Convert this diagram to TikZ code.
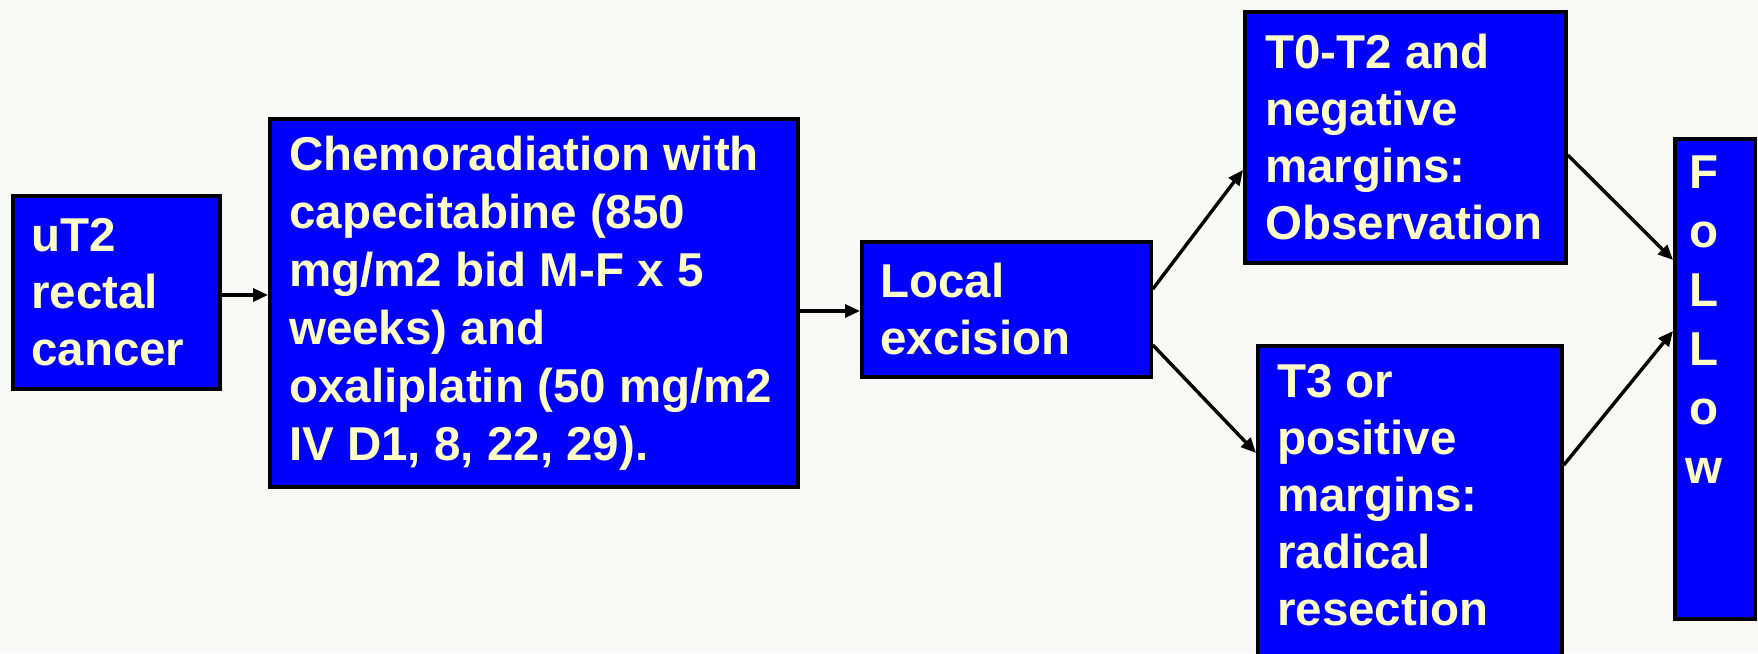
\documentclass[tikz,border=0pt]{standalone}
\usepackage{fontspec}
\setmainfont{Liberation Sans}
\usetikzlibrary{arrows.meta,calc}
\definecolor{bgcol}{RGB}{248,248,247}
\definecolor{boxblue}{RGB}{0,0,255}
\definecolor{txtyellow}{RGB}{255,255,200}
\begin{document}
\begin{tikzpicture}[x=1pt,y=-1pt,
  box/.style={draw=black, line width=3.8pt, fill=boxblue, anchor=north west, inner sep=0pt},
  lbl/.style={text=txtyellow, font=\fontsize{47.5}{57}\selectfont\bfseries, align=left, inner sep=0pt, anchor=west},
  conn/.style={draw=black, line width=3.4pt, -{Triangle[length=15pt,width=13pt]}}]
\useasboundingbox (0,0) rectangle (1758,653);
\fill[bgcol] (0,0) rectangle (1758,653);
\clip (0,0) rectangle (1758,653);
% boxes
\node[box, minimum width=207, minimum height=193] (uT2) at (11,194) {};
\node[box, minimum width=528, minimum height=368] (chemo) at (268,117) {};
\node[box, minimum width=289, minimum height=135] (local) at (860,240) {};
\node[box, minimum width=321, minimum height=251] (t0) at (1243,10) {};
\node[box, minimum width=304, minimum height=330] (t3) at (1256,344) {};
\node[box, minimum width=80, minimum height=480] (follow) at (1673,137) {};
% texts
\node[lbl] (uT2txt) at ([xshift=20]uT2.west) {uT2\\rectal\\cancer};
\node[lbl, font=\fontsize{47.5}{58}\selectfont\bfseries] (chemotxt) at ([xshift=21]chemo.west) {Chemoradiation with\\capecitabine (850\\mg/m2 bid M-F x 5\\weeks) and\\oxaliplatin (50 mg/m2\\IV D1, 8, 22, 29).};
\node[lbl] (localtxt) at ([xshift=20]local.west) {Local\\excision};
\node[lbl] (t0txt) at ([xshift=22]t0.west) {T0-T2 and\\negative\\margins:\\Observation};
\node[lbl, anchor=north west] (t3txt) at ([xshift=21,yshift=-20]t3.north west) {T3 or\\positive\\margins:\\radical\\resection};
\node[lbl, align=center, anchor=north, font=\fontsize{47.5}{59}\selectfont\bfseries] (followtxt) at (1704,156) {F\\o\\L\\L\\o\\w};
% connectors
\draw[conn] (uT2.east |- 0,295) -- (chemo.west |- 0,295);
\draw[conn] (chemo.east |- 0,311) -- (local.west |- 0,311);
\draw[conn] (local.east |- 0,289) -- (t0.west |- 0,170);
\draw[conn] (local.east |- 0,345) -- (t3.west |- 0,453);
\draw[conn] (t0.east |- 0,155) -- (follow.west |- 0,260);
\draw[conn] (t3.east |- 0,465) -- (follow.west |- 0,331);
\end{tikzpicture}
\end{document}
